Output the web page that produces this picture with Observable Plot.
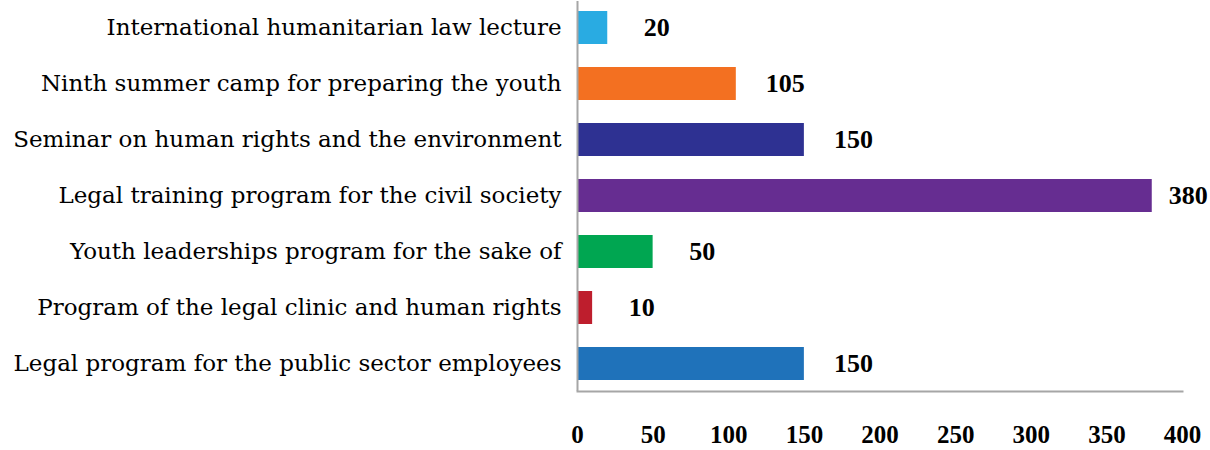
<!DOCTYPE html>
<html>
<head>
<meta charset="utf-8">
<script src="https://cdn.jsdelivr.net/npm/d3@7"></script>
<script src="https://cdn.jsdelivr.net/npm/@observablehq/plot@0.6"></script>
<style>
  html, body { margin: 0; padding: 0; background: #fff; }
  #chart svg { display: block; }
</style>
</head>
<body>
<div id="chart"></div>
<script>
const programs = [
  "International humanitarian law lecture",
  "Ninth summer camp for preparing the youth",
  "Seminar on human rights and the environment",
  "Legal training program for the civil society",
  "Youth leaderships program for the sake of",
  "Program of the legal clinic and human rights",
  "Legal program for the public sector employees"
];
const participants = [20, 105, 150, 380, 50, 10, 150];
const barColors = ["#29ABE2", "#F37021", "#2E3192", "#662D91", "#00A651", "#BE1E2D", "#1F72BA"];
const xTicks = [0, 50, 100, 150, 200, 250, 300, 350, 400];

const data = programs.map((p, i) => ({program: p, value: participants[i], color: barColors[i]}));
const serif = "'Palatino Linotype', 'Book Antiqua', Palatino, 'Liberation Serif', serif";
const labelSerif = "'Palatino Linotype', 'Book Antiqua', Palatino, 'DejaVu Serif', serif";

const chart = Plot.plot({
  width: 1210,
  height: 450,
  marginLeft: 577,
  marginRight: 28,
  marginTop: 1,
  marginBottom: 59,
  style: {fontFamily: serif, background: "#fff", color: "#000"},
  x: {domain: [0, 400], ticks: xTicks, label: null},
  y: {domain: programs, label: null, paddingInner: 0.41, paddingOuter: 0.18},
  marks: [
    Plot.barX(data, {y: "program", x: "value", fill: "color"}),
    Plot.ruleX([0], {stroke: "#A6A6A6", strokeWidth: 2}),
    Plot.frame({anchor: "bottom", stroke: "#A6A6A6", strokeWidth: 2}),
    Plot.text(data, Plot.filter(d => d.value < 350, {
      y: "program", x: "value", text: d => String(d.value),
      dx: 49, textAnchor: "middle", fontWeight: "bold", fontSize: 26, fill: "#000"
    })),
    Plot.text(data, Plot.filter(d => d.value >= 350, {
      y: "program", x: "value", text: d => String(d.value),
      dx: 36, textAnchor: "middle", fontWeight: "bold", fontSize: 26, fill: "#000"
    })),
    Plot.axisY({tickSize: 0, tickPadding: 16, fontSize: 23, fontFamily: labelSerif, label: null}),
    Plot.axisX({ticks: xTicks, tickSize: 0, tickPadding: 34, fontSize: 25, fontWeight: "bold", label: null})
  ]
});
document.getElementById("chart").appendChild(chart);
</script>
</body>
</html>
